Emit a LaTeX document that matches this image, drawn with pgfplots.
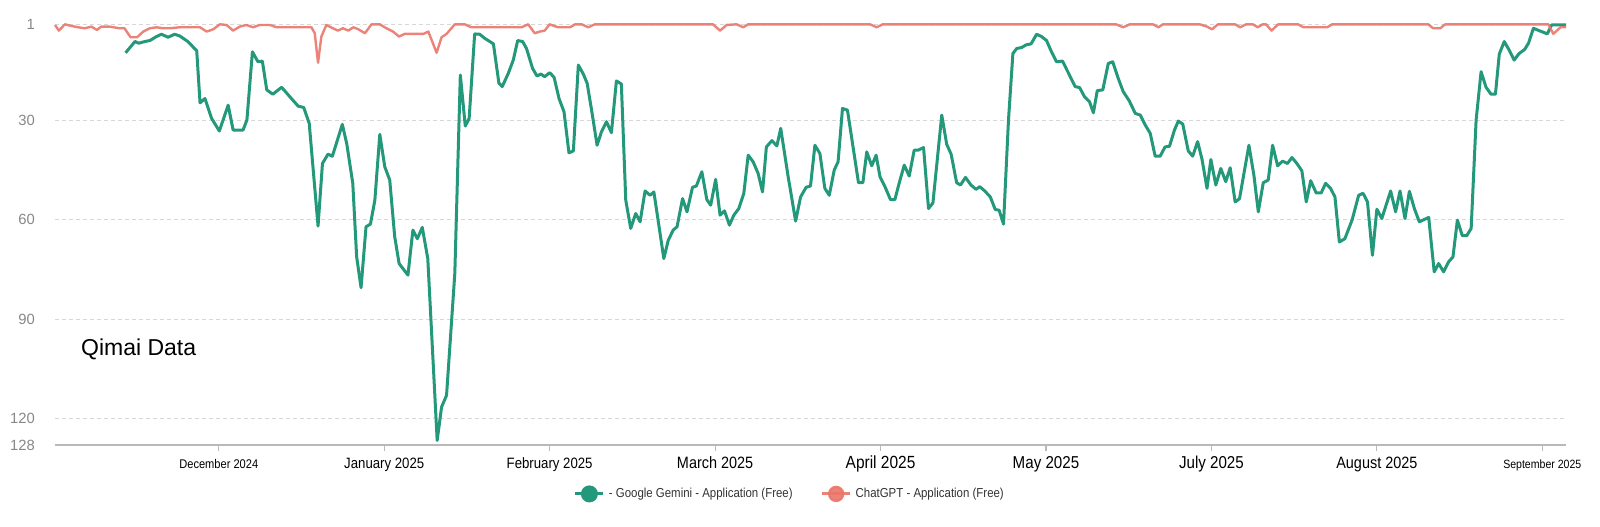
\documentclass[border=0pt]{standalone}
\usepackage{fontspec}
\setmainfont{Liberation Sans}
\usepackage{pgfplots}
\pgfplotsset{compat=1.18}
\usepackage{graphicx}
\definecolor{gem}{RGB}{36,152,122}
\definecolor{gpt}{RGB}{234,118,106}
\definecolor{gridc}{RGB}{215,215,215}
\definecolor{axc}{RGB}{185,185,185}
\definecolor{tickc}{RGB}{135,135,135}
\newcommand{\xl}[2]{\scalebox{0.88}[1]{\fontsize{#1}{#1}\selectfont #2}}

\pgfplotstableread{
x y
-16.9 9.6
-15.2 6.2
-14.5 6.7
-13.4 6.2
-12.5 5.9
-11.3 4.7
-10.4 4.0
-9.2 4.9
-8.0 4.0
-7.1 4.5
-5.6 6.2
-4.0 9.0
-3.4 24.7
-2.5 23.4
-1.3 29.4
0.1 33.2
1.7 25.4
2.6 32.9
4.4 32.9
5.1 29.9
6.1 9.3
7.1 12.3
7.9 12.1
8.7 20.8
9.8 22.1
11.4 20.0
12.9 22.9
14.4 25.7
15.4 26.1
16.4 30.9
18.0 61.9
18.8 43.0
19.8 40.2
20.6 40.8
22.4 31.2
23.2 37
24.3 49
25.0 71.2
25.8 80.5
26.7 62.1
27.5 61.3
28.3 54.1
29.2 34.2
30.1 44.0
31.0 48
31.9 65.1
32.7 73.2
34.3 76.7
35.2 63.1
36.0 65.7
36.9 62.3
37.9 71.7
39.6 126.6
40.4 116.5
41.3 113
42.8 76.2
43.8 16.3
44.7 31.7
45.4 29.4
46.4 3.9
47.3 4.0
48.2 5.2
49.8 6.9
50.8 18.8
51.4 19.8
52.5 15.8
53.4 11.8
54.2 5.9
55.1 6.2
55.8 8.3
56.9 14.3
57.7 16.6
58.4 16
59.1 16.8
60.0 15.6
60.8 17
61.7 23.4
62.6 27.4
63.5 39.8
64.3 39.2
65.2 13.3
66.1 16
66.8 18.8
67.7 27.9
68.6 37.5
69.4 33.4
70.3 30.4
71.2 33.7
72.1 18.1
73.0 19.0
73.8 54.1
74.7 62.6
75.6 58.1
76.4 60.6
77.3 51.3
78.2 52.6
78.9 51.6
80.7 71.7
81.5 66.2
82.4 63.1
83.1 62.1
84.1 53.6
84.9 57.6
85.9 50.2
86.6 49.8
87.6 45.5
88.5 53.9
89.2 55.6
90.1 47.8
90.9 58.6
91.7 57.3
92.6 61.6
93.4 58.6
94.3 56.6
95.2 52.1
96.0 40.5
96.9 42.5
97.8 46
98.6 51.6
99.3 38
100.3 36.1
101.2 37.7
101.9 32.4
103.2 46.5
104.6 60.4
105.5 53.1
106.5 50.2
107.3 49.8
108.1 37.5
109.0 40.0
109.9 50.5
110.7 52.6
111.6 45
112.3 42.5
113.1 26.4
114.0 26.9
116.0 48.8
116.8 48.8
117.5 39.5
118.4 43.7
119.2 40.5
119.9 47
120.8 50
121.8 53.9
122.6 53.9
123.4 48.8
124.3 43.5
125.2 46.8
126.1 39.0
126.8 39.0
127.8 38.2
128.7 56.6
129.5 54.9
131.1 28.4
132.0 37.2
132.8 40.2
133.8 48.8
134.5 49.5
135.4 47.2
136.4 49.5
137.3 50.8
138.0 50.0
138.9 51.3
139.9 53.1
140.8 56.9
141.5 57.1
142.3 61.3
143.2 29.9
144.0 9.8
144.7 8.3
145.6 8.0
146.4 7.2
147.3 6.9
148.3 4.0
149.2 4.7
150.1 5.9
151.0 9.3
151.9 12.3
153.0 12.1
154.1 15.8
155.3 19.8
156.1 20.1
157.0 22.9
157.9 24.4
158.6 27.7
159.3 21.0
160.3 20.8
161.3 12.8
162.1 12.3
163.1 17.3
164.0 21.3
165.1 24.1
166.2 27.9
167.1 28.4
168.0 31.4
168.9 33.9
169.8 40.8
170.7 40.8
171.6 38.0
172.4 37.8
173.3 32.9
174.0 30.2
174.8 31.1
175.8 39.2
176.6 40.8
177.5 36.4
178.3 41.8
179.2 50.5
179.9 41.8
180.8 49.5
181.7 44.5
182.6 48.5
183.4 44.3
184.3 54.6
185.1 53.6
185.9 46.0
186.8 37.5
187.7 46.5
188.5 57.6
189.4 48.8
190.3 48.0
191.1 37.5
192.0 43.7
192.9 42.3
193.8 43.0
194.6 41.2
195.5 43.0
196.4 45.2
197.2 54.6
198.0 48.2
199.0 51.9
199.9 51.9
200.7 49.0
201.6 50.5
202.4 53.1
203.2 66.7
204.2 65.7
205.5 60.1
206.7 52.6
207.5 52.0
208.3 54.6
209.2 70.7
210.0 56.8
210.9 59.6
212.5 51.3
213.4 57.6
214.2 51.3
215.1 59.6
215.9 51.4
216.8 56.6
217.7 60.6
218.6 59.9
219.4 59.3
220.4 75.7
221.2 73.2
222.1 75.7
223.0 72.7
223.8 71.2
224.6 60.1
225.5 64.8
226.3 64.8
227.1 62.6
228.0 29.9
228.9 15.3
229.8 20.0
230.7 22.1
231.5 22.1
232.2 10.0
233.1 6.2
234.0 8.8
234.9 11.8
235.8 9.8
236.8 8.6
237.5 6.7
238.4 2.2
239.4 2.9
240.2 3.4
240.9 3.9
241.7 1.2
242.9 1.2
244.3 1.2
}\gemini

\pgfplotstableread{
x y
-29.7 1.2
-29.0 2.9
-27.9 1.0
-26.7 1.5
-25.5 1.9
-24.3 2.2
-23.1 1.7
-22.1 2.7
-21.3 1.7
-19.8 1.7
-18.0 2.2
-17.1 2.2
-16.0 4.9
-14.8 4.9
-13.7 3.2
-12.5 2.2
-11.3 1.9
-10.1 2.2
-8.9 2.2
-7.1 1.9
-4.7 1.9
-3.4 1.9
-2.2 3.2
-1.0 2.5
0.2 1.0
1.4 1.2
2.6 2.9
3.8 1.7
5.0 1.2
6.2 1.9
7.4 1.2
9.3 1.2
10.5 1.9
13.5 1.9
16.8 1.9
17.4 3.7
18.0 12.6
18.6 4.7
19.5 1.2
20.7 2.2
21.6 2.9
22.5 2.2
23.5 2.9
24.4 1.9
25.3 2.5
26.5 3.7
27.7 1.0
29.2 1.0
30.4 2.2
31.6 3.2
32.7 4.7
33.7 3.9
37.1 3.9
38.0 3.2
39.5 9.6
40.4 4.9
41.3 3.9
42.8 1.0
44.6 1.0
45.8 1.9
49.2 1.9
54.9 1.9
56.1 1.0
57.3 3.7
58.2 3.2
59.1 2.9
60.0 1.0
61.5 1.9
63.7 1.9
64.6 1.0
65.8 1.0
67.0 1.9
68.2 1.0
89.6 1.0
90.9 2.9
92.1 1.2
93.9 1.0
95.1 1.9
96.0 1.0
118.1 1.0
119.3 1.9
120.4 1.0
162.7 1.0
164.0 1.9
165.2 1.0
169.4 1.0
170.4 1.9
171.2 1.0
177.9 1.0
179.2 1.7
180.1 2.5
181.2 1.0
184.3 1.0
185.2 1.9
186.3 1.0
187.5 1.0
188.4 1.9
189.3 1.0
189.9 1.0
190.9 2.9
192.1 1.0
195.7 1.0
196.7 1.9
201.0 1.9
201.9 1.0
219.3 1.0
220.2 2.2
221.5 2.2
222.4 1.0
239.6 1.0
241.1 1.0
242.0 3.9
243.3 1.9
244.3 1.9
}\chatgpt

\begin{document}
\begin{tikzpicture}
\path[use as bounding box] (-27.5pt,-40.5pt) rectangle (772.5pt,222.55pt);
\begin{axis}[
  at={(0pt,0pt)}, anchor=south west,
  scale only axis, width=755.5pt, height=210.4pt,
  xmin=-29.7, xmax=244.3, ymin=1, ymax=128, y dir=reverse,
  clip=false,
  axis line style={draw=none},
  xtick pos=bottom, ytick pos=left,
  tick align=outside,
  major tick length=3pt,
  ytick style={draw=none},
  xtick style={axc, line width=0.6pt},
  xtick={0,30,60,90,120,150,180,210,240},
  xticklabels={{\xl{6.3}{December 2024}},{\xl{7.5}{January 2025}},{\xl{7.5}{February 2025}},{\xl{8.2}{March 2025}},{\xl{8.8}{April 2025}},{\xl{8.6}{May 2025}},{\xl{8.6}{July 2025}},{\xl{8.2}{August 2025}},{\xl{6}{September 2025}}},
  xticklabel style={anchor=base, yshift=-8.5pt, text=black},
  ytick={1,30,60,90,120,128},
  yticklabels={1,30,60,90,120,128},
  yticklabel style={font=\fontsize{7.4}{7.4}\selectfont, text=tickc, xshift=-3.5pt},
  /pgf/number format/assume math mode=true,
  ymajorgrids,
  grid style={gridc, dash pattern=on 2pt off 1.5pt, line width=0.5pt},
  legend columns=2,
  legend cell align=left,
  legend style={draw=none, fill=none, at={(axis description cs:0.487,-0.116)}, anchor=center,
    font=\fontsize{6.5}{6.5}\selectfont, text=black!80,
    /tikz/every even column/.append style={column sep=12pt}},
  legend image code/.code={
    \draw[#1, line width=1.5pt] (0pt,0pt) -- (14pt,0pt);
    \fill[#1] (7pt,0pt) circle (3.5pt);},
]
\addplot[gem, line width=1.5pt, line join=round] table[x=x,y=y] {\gemini};
\addlegendentry{\scalebox{0.88}[1]{- Google Gemini - Application (Free)}}
\addplot[gpt, line width=1.2pt, line join=round, opacity=0.9] table[x=x,y=y] {\chatgpt};
\addlegendentry{\scalebox{0.88}[1]{ChatGPT - Application (Free)}}
\draw[axc, line width=0.8pt] (axis description cs:0,0) -- (axis description cs:1,0);
\node[anchor=base west, font=\fontsize{11.5}{11.5}\selectfont] at (axis description cs:0.0126,0.214) {Qimai Data};
\end{axis}
\end{tikzpicture}
\end{document}
